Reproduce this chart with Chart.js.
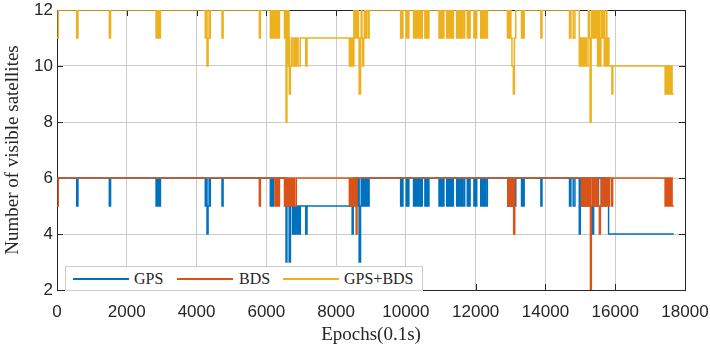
<!DOCTYPE html>
<html>
<head>
<meta charset="utf-8">
<script src="https://cdn.jsdelivr.net/npm/chart.js@4.4.1/dist/chart.umd.min.js"></script>
<style>
  html, body { margin: 0; padding: 0; background: #fff; }
  #wrap { position: relative; width: 710px; height: 350px; }
  #legend { position: absolute; left: 65px; top: 266px; width: 356px; height: 23px;
            border: 1px solid #cccccc; background: #fff;
            font-family: "Liberation Serif", serif; font-size: 16px; color: #262626; }
  .item { position: absolute; top: 0; height: 23px; line-height: 23px; white-space: nowrap; }
  .swatch { position: absolute; top: 11px; height: 2px; width: 56px; }
</style>
</head>
<body>
<div id="wrap">
  <canvas id="c" width="710" height="350"></canvas>
  <div id="legend"></div>
</div>
<script>
// tick values
const xTicks = [0, 2000, 4000, 6000, 8000, 10000, 12000, 14000, 16000, 18000];
const yTicks = [2, 4, 6, 8, 10, 12];

// series as [epoch, satellites] change points (value holds until next point)
const gpsSteps = [
  [0,6],[565,5],[600,6],[1500,5],[1535,6],
  [2840,5],[2880,6],[2890,5],[2925,6],[2935,5],[2965,6],
  [4250,5],[4280,6],[4300,4],[4330,5],[4360,6],[4370,5],[4395,6],
  [4730,5],[4760,6],
  [6115,5],[6150,6],[6170,5],[6200,6],
  [6545,5],[6565,3],[6590,5],[6655,3],[6690,5],[6750,4],[6780,5],[6800,4],[6830,5],
  [6850,4],[6880,5],[6900,4],[6940,5],[6950,4],[6975,5],[7130,4],[7165,5],
  [8460,4],[8490,5],[8510,6],[8610,5],[8640,6],[8660,3],[8700,5],[8720,6],[8740,5],
  [8780,6],[8800,5],[8840,6],[8850,5],[8880,6],[8920,5],[8945,6],
  [9850,5],[9880,6],[9890,5],[9915,6],[10010,5],[10040,6],[10055,5],[10085,6],
  [10220,5],[10250,6],[10260,5],[10300,6],[10340,5],[10370,6],[10385,5],[10420,6],[10440,5],[10470,6],
  [10545,5],[10575,6],[10600,5],[10625,6],[10635,5],[10660,6],
  [10950,5],[10980,6],[10995,5],[11030,6],[11050,5],[11090,6],
  [11170,5],[11200,6],[11215,5],[11245,6],[11280,5],[11310,6],[11330,5],[11360,6],
  [11455,5],[11485,6],[11500,5],[11530,6],[11545,5],[11575,6],[11590,5],[11620,6],[11640,5],[11685,6],
  [11760,5],[11790,6],[11810,5],[11840,6],[11950,5],[11980,6],[12000,5],[12030,6],
  [12145,5],[12175,6],[12190,5],[12220,6],[12240,5],[12270,6],[12290,5],[12335,6],
  [12920,5],[12960,6],[12980,5],[13010,6],[13030,5],[13060,6],[13100,5],[13150,6],
  [13315,5],[13350,6],[13360,5],[13390,6],[13870,5],[13900,6],
  [14690,5],[14730,6],[14795,5],[14845,6],
  [14970,4],[15000,6],[15020,5],[15050,6],[15070,5],[15100,6],[15140,5],[15170,6],[15190,5],[15220,6],
  [15350,4],[15380,6],[15420,5],[15450,6],[15490,5],[15520,6],[15600,5],[15630,6],[15700,5],[15730,6],
  [15810,4],[17680,4]
];

const bdsSteps = [
  [0,5],[35,6],
  [5800,5],[5830,6],
  [6245,5],[6280,6],[6290,5],[6330,6],[6345,5],[6375,6],
  [6520,5],[6550,6],[6560,5],[6600,6],[6610,5],[6650,6],[6660,5],[6700,6],[6710,5],[6750,6],
  [6760,5],[6800,6],[6810,5],[6860,6],
  [8380,5],[8410,6],[8420,5],[8460,6],[8480,5],[8510,6],[8530,5],[8560,6],[8575,4],[8600,6],
  [12920,5],[12950,6],[12960,5],[13000,6],[13020,5],[13060,6],[13090,4],[13120,6],
  [15030,5],[15070,6],[15080,5],[15120,6],[15130,5],[15170,6],[15180,5],[15220,6],
  [15250,5],[15280,6],[15290,2],[15315,5],[15340,6],[15360,5],[15400,6],[15410,5],[15450,6],
  [15460,5],[15500,6],[15510,5],[15545,4],[15575,5],[15600,6],[15620,5],[15660,6],[15680,5],
  [15720,6],[15730,5],[15770,6],[15790,5],[15830,6],[15890,5],[15925,6],
  [17430,5],[17470,6],[17480,5],[17520,6],[17530,5],[17570,6],[17580,5],[17620,6],[17630,5],[17680,5]
];

const bothSteps = [
  [0,11],[35,12],[565,11],[600,12],[1500,11],[1535,12],
  [2840,11],[2880,12],[2890,11],[2925,12],[2935,11],[2965,12],
  [4250,11],[4280,12],[4300,10],[4330,11],[4360,12],[4370,11],[4395,12],
  [4730,11],[4760,12],[5800,11],[5830,12],
  [6115,11],[6150,12],[6170,11],[6200,12],[6230,11],[6270,12],[6290,11],[6330,12],[6345,11],[6375,12],
  [6520,11],[6540,12],[6550,11],[6565,8],[6590,12],[6610,11],[6620,10],[6640,12],[6650,11],
  [6660,9],[6690,10],[6720,11],[6740,10],[6790,11],[6800,10],[6840,11],[6860,10],[6900,11],
  [6910,10],[6970,11],[7130,10],[7165,11],
  [8380,10],[8410,11],[8420,10],[8460,11],[8480,10],[8510,12],[8530,11],[8560,12],[8580,11],
  [8620,12],[8640,11],[8660,9],[8700,11],[8720,12],[8740,11],[8760,10],[8790,11],[8810,12],
  [8840,11],[8870,12],[8920,11],[8945,12],
  [9850,11],[9880,12],[9890,11],[9915,12],[10010,11],[10040,12],[10055,11],[10085,12],
  [10220,11],[10250,12],[10260,11],[10300,12],[10340,11],[10370,12],[10385,11],[10420,12],[10440,11],[10470,12],
  [10545,11],[10575,12],[10600,11],[10625,12],[10635,11],[10660,12],
  [10950,11],[10980,12],[10995,11],[11030,12],[11050,11],[11090,12],
  [11170,11],[11200,12],[11215,11],[11245,12],[11280,11],[11310,12],[11330,11],[11360,12],
  [11455,11],[11485,12],[11500,11],[11530,12],[11545,11],[11575,12],[11590,11],[11620,12],[11640,11],[11685,12],
  [11760,11],[11790,12],[11810,11],[11840,12],[11950,11],[11980,12],[12000,11],[12030,12],
  [12145,11],[12175,12],[12190,11],[12220,12],[12240,11],[12270,12],[12290,11],[12335,12],
  [12910,11],[12950,12],[12960,11],[13000,12],[13010,11],[13040,10],[13080,9],[13110,11],[13150,12],
  [13315,11],[13350,12],[13360,11],[13390,12],[13870,11],[13900,12],
  [14690,11],[14730,12],[14795,11],[14845,12],
  [14970,10],[15000,11],[15010,10],[15050,11],[15070,10],[15110,11],[15120,10],[15160,11],[15170,10],
  [15220,11],[15230,12],[15260,11],[15280,8],[15310,11],[15320,12],[15350,11],[15370,12],[15400,11],
  [15420,12],[15450,11],[15470,12],[15495,10],[15520,11],[15530,12],[15560,10],[15590,11],[15610,12],
  [15640,11],[15660,12],[15685,10],[15720,11],[15740,12],[15760,10],[15800,11],[15820,10],
  [15905,9],[15930,10],
  [17430,9],[17470,10],[17480,9],[17520,10],[17530,9],[17570,10],[17580,9],[17620,10],[17630,9],[17680,9]
];

const seriesNames = ['GPS', 'BDS', 'GPS+BDS'];
const seriesColors = ['#0072BD', '#D95319', '#EDB120'];

const toXY = steps => steps.map(p => ({ x: p[0], y: p[1] }));

// inward tick marks + box frame like MATLAB axes
const frame = {
  id: 'frame',
  beforeDatasetsDraw(chart) {
    const { ctx, chartArea: a, scales: { x, y } } = chart;
    ctx.save();
    ctx.strokeStyle = '#262626';
    ctx.lineWidth = 1;
    ctx.beginPath();
    x.ticks.forEach(t => {
      const px = Math.round(x.getPixelForValue(t.value)) + 0.5;
      ctx.moveTo(px, a.bottom); ctx.lineTo(px, a.bottom - 6);
      ctx.moveTo(px, a.top); ctx.lineTo(px, a.top + 6);
    });
    y.ticks.forEach(t => {
      const py = Math.round(y.getPixelForValue(t.value)) + 0.5;
      ctx.moveTo(a.left, py); ctx.lineTo(a.left + 6, py);
      ctx.moveTo(a.right, py); ctx.lineTo(a.right - 6, py);
    });
    ctx.stroke();
    ctx.strokeRect(Math.round(a.left) + 0.5, Math.round(a.top) + 0.5,
                   Math.round(a.right - a.left), Math.round(a.bottom - a.top));
    ctx.restore();
  }
};

new Chart(document.getElementById('c'), {
  type: 'line',
  data: {
    datasets: [
      { label: seriesNames[0], data: toXY(gpsSteps), borderColor: seriesColors[0], order: 3 },
      { label: seriesNames[1], data: toXY(bdsSteps), borderColor: seriesColors[1], order: 2 },
      { label: seriesNames[2], data: toXY(bothSteps), borderColor: seriesColors[2], order: 1 }
    ]
  },
  options: {
    responsive: false,
    animation: false,
    devicePixelRatio: 1,
    layout: { padding: 0 },
    elements: {
      line: { borderWidth: 1.5, stepped: true, fill: false, tension: 0 },
      point: { radius: 0 }
    },
    plugins: { legend: { display: false }, tooltip: { enabled: false } },
    scales: {
      x: {
        type: 'linear', min: 0, max: 18000,
        afterBuildTicks: s => { s.ticks = xTicks.map(v => ({ value: v })); },
        afterFit: s => { s.height = 60; s.paddingLeft = 0; s.paddingRight = 25; },
        grid: { color: '#cccccc', drawTicks: false },
        border: { display: false },
        ticks: { padding: 12, color: '#262626', font: { family: 'Liberation Sans', size: 17 },
                 maxRotation: 0, callback: v => String(v) },
        title: { display: true, text: 'Epochs(0.1s)', color: '#262626',
                 font: { family: 'Liberation Serif', size: 19 }, padding: { top: 0, bottom: 4 } }
      },
      y: {
        min: 2, max: 12,
        afterBuildTicks: s => { s.ticks = yTicks.map(v => ({ value: v })); },
        afterFit: s => { s.width = 57; s.paddingTop = 10; s.paddingBottom = 0; },
        grid: { color: '#cccccc', drawTicks: false },
        border: { display: false },
        ticks: { padding: 4, color: '#262626', font: { family: 'Liberation Sans', size: 17 },
                 callback: v => String(v) },
        title: { display: true, text: 'Number of visible satellites', color: '#262626',
                 font: { family: 'Liberation Serif', size: 19 }, padding: { top: 2, bottom: 0 } }
      }
    }
  },
  plugins: [frame]
});

// legend box inside the plot, bottom left
const legendPos = [[7, 68], [111, 173], [217, 278]];
const legend = document.getElementById('legend');
seriesNames.forEach((name, i) => {
  const sw = document.createElement('div');
  sw.className = 'swatch';
  sw.style.left = legendPos[i][0] + 'px';
  sw.style.background = seriesColors[i];
  legend.appendChild(sw);
  const tx = document.createElement('div');
  tx.className = 'item';
  tx.style.left = legendPos[i][1] + 'px';
  tx.textContent = name;
  legend.appendChild(tx);
});
</script>
</body>
</html>
